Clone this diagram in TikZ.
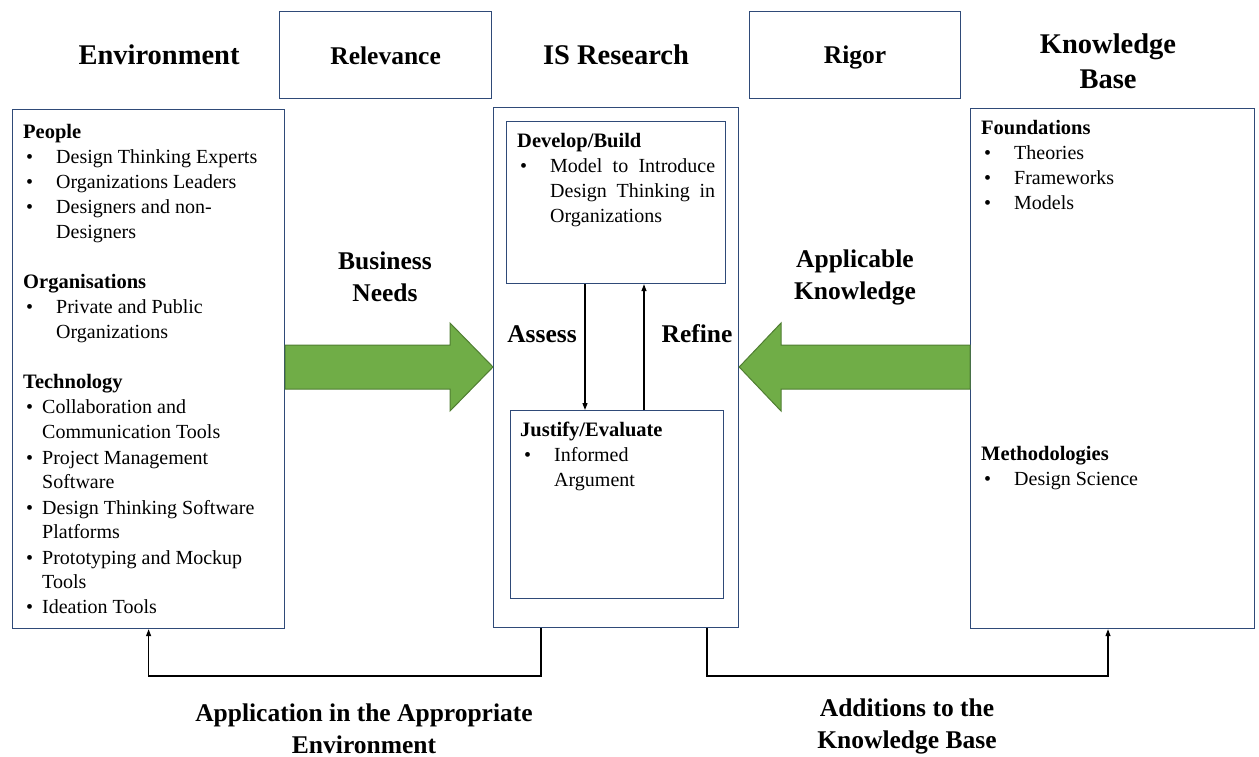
\documentclass[tikz,border=0pt]{standalone}
\usepackage{fontspec}
\setmainfont{Liberation Serif}
\usetikzlibrary{arrows.meta}
\definecolor{boxblue}{HTML}{2F4A78}
\definecolor{agreen}{HTML}{70AD47}
\definecolor{agreenD}{HTML}{507E32}
\begin{document}
\begin{tikzpicture}[x=1pt,y=-1pt,
  frame/.style={draw=boxblue, line width=1.2pt, inner sep=0pt, anchor=north west},
  title/.style={font=\fontsize{28.5}{35}\selectfont\bfseries, align=center, inner sep=0pt},
  sub/.style={font=\fontsize{25.5}{32}\selectfont\bfseries, align=center, inner sep=0pt},
  hd/.style={font=\fontsize{20.5}{22}\selectfont\bfseries, anchor=mid west, inner sep=0pt, yshift=-5pt},
  tx/.style={font=\fontsize{20}{22}\selectfont, anchor=mid west, inner sep=0pt, yshift=-5pt},
  conn/.style={line width=1.2pt, -{Triangle[length=7pt,width=5pt]}},
  garrow/.style={fill=agreen, draw=agreenD, line width=1pt, line join=miter}
]
\useasboundingbox (0,0) rectangle (1259,757);
% boxes
\node[frame, minimum width=272pt, minimum height=519pt] (env) at (12,109) {};
\node[frame, minimum width=212pt, minimum height=87pt] (rel) at (279,11) {};
\node[frame, minimum width=245pt, minimum height=520pt] (is) at (493,107) {};
\node[frame, minimum width=219pt, minimum height=162pt] (dev) at (506,121) {};
\node[frame, minimum width=213pt, minimum height=188pt] (jus) at (510,410) {};
\node[frame, minimum width=211pt, minimum height=87pt] (rig) at (749,11) {};
\node[frame, minimum width=284pt, minimum height=520pt] (kb) at (970,108) {};
% titles
\node[title] (tEnv) at (159,55) {Environment};
\node[sub] (tRel) at ([yshift=-1pt]rel.center) {Relevance};
\node[title] (tIS) at (616,55) {IS Research};
\node[sub] (tRig) at ([yshift=-2pt]rig.center) {Rigor};
\node[title] (tKB) at (1108,61) {Knowledge\\Base};
\node[sub] (tBN) at (385,277) {Business\\Needs};
\node[sub] (tAK) at (855,277) {Applicable\\Knowledge};
\node[sub] (tAs) at (542,334) {Assess};
\node[sub] (tRe) at (697,334) {Refine};
\node[sub] (tAp) at (364,729) {Application in the Appropriate\\Environment};
\node[sub] (tAd) at (907,726) {Additions to the\\Knowledge Base};
% green arrows
\draw[garrow] (285,345) -- (450,345) -- (450,323) -- (is.west |- 0,367) -- (450,411) -- (450,389) -- (285,389) -- cycle;
\draw[garrow] (kb.west |- 0,345) -- (781,345) -- (781,323) -- (is.east |- 0,367) -- (781,411) -- (781,389) -- (kb.west |- 0,389) -- cycle;
% inner connectors
\coordinate (ax) at (585,0);
\coordinate (rx) at (644,0);
\draw[conn] (dev.south -| ax) -- (jus.north -| ax);
\draw[conn] (jus.north -| rx) -- (dev.south -| rx);
% bottom connectors
\coordinate (b1) at (541,676);
\coordinate (b2) at (707,676);
\coordinate (kx) at (1108,0);
\draw[conn] (is.south -| b1) -- (b1) -| (env.south);
\draw[conn] (is.south -| b2) -- (b2) -| (kb.south -| kx);
% environment content
\node[hd] (e1) at (23,131) {People};
\node[tx] (e2b) at (26,156) {•}; \node[tx] (e2) at (56,156) {Design Thinking Experts};
\node[tx] (e3b) at (26,181) {•}; \node[tx] (e3) at (56,181) {Organizations Leaders};
\node[tx] (e4b) at (26,206) {•}; \node[tx] (e4) at (56,206) {Designers and non-};
\node[tx] (e5) at (56,231) {Designers};
\node[hd] (e6) at (23,281) {Organisations};
\node[tx] (e7b) at (26,306) {•}; \node[tx] (e7) at (56,306) {Private and Public};
\node[tx] (e8) at (56,331) {Organizations};
\node[hd] (e9) at (23,381) {Technology};
\node[tx] (e10b) at (26,406) {•}; \node[tx] (e10) at (42,406) {Collaboration and};
\node[tx] (e11) at (42,431) {Communication Tools};
\node[tx] (e12b) at (26,457) {•}; \node[tx] (e12) at (42,457) {Project Management};
\node[tx] (e13) at (42,481) {Software};
\node[tx] (e14b) at (26,507) {•}; \node[tx] (e14) at (42,507) {Design Thinking Software};
\node[tx] (e15) at (42,531) {Platforms};
\node[tx] (e16b) at (26,557) {•}; \node[tx] (e16) at (42,557) {Prototyping and Mockup};
\node[tx] (e17) at (42,581) {Tools};
\node[tx] (e18b) at (26,606) {•}; \node[tx] (e18) at (42,606) {Ideation Tools};
% develop/build
\node[hd] (d1) at (517,140) {Develop/Build};
\node[tx] (d2b) at (520,165) {•}; \node[tx] (d2) at (550,165) {\makebox[165pt][s]{Model to Introduce}};
\node[tx] (d3) at (550,190) {\makebox[165pt][s]{Design Thinking in}};
\node[tx] (d4) at (550,215) {Organizations};
% justify/evaluate
\node[hd] (j1) at (520,429) {Justify/Evaluate};
\node[tx] (j2b) at (524,454) {•}; \node[tx] (j2) at (554,454) {Informed};
\node[tx] (j3) at (554,479) {Argument};
% knowledge base
\node[hd] (k1) at (981,127) {Foundations};
\node[tx] (k2b) at (984,152) {•}; \node[tx] (k2) at (1014,152) {Theories};
\node[tx] (k3b) at (984,177) {•}; \node[tx] (k3) at (1014,177) {Frameworks};
\node[tx] (k4b) at (984,202) {•}; \node[tx] (k4) at (1014,202) {Models};
\node[hd] (k5) at (981,453) {Methodologies};
\node[tx] (k6b) at (984,478) {•}; \node[tx] (k6) at (1014,478) {Design Science};
\end{tikzpicture}
\end{document}
